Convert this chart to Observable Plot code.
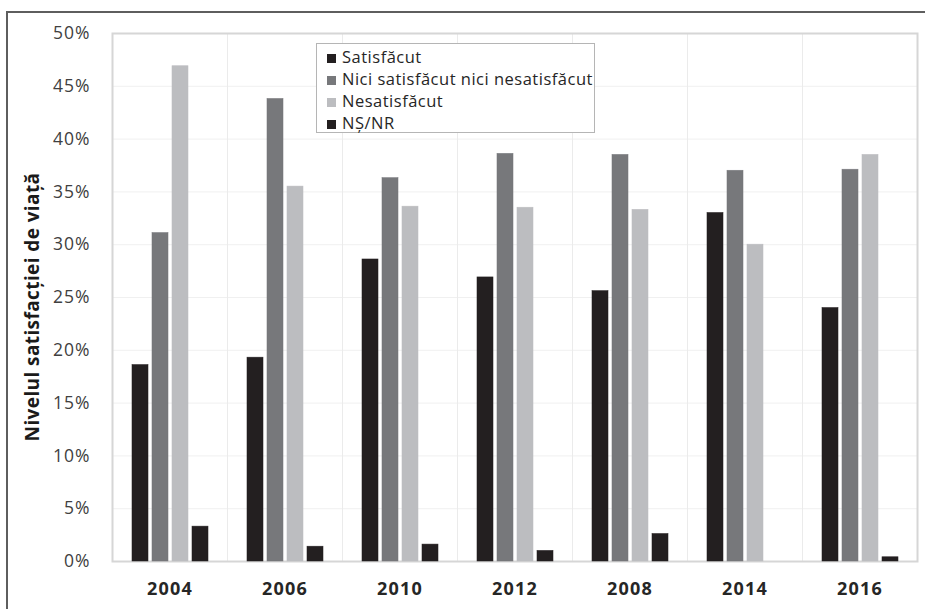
<!DOCTYPE html>
<html>
<head>
<meta charset="utf-8">
<script src="https://cdn.jsdelivr.net/npm/d3@7"></script>
<script src="https://cdn.jsdelivr.net/npm/@observablehq/plot@0.6"></script>
<style>
  html, body { margin: 0; padding: 0; background: #fff; }
  #wrap { position: relative; width: 925px; height: 609px; overflow: hidden; font-family: "Open Sans", sans-serif; }
  #border { position: absolute; left: 6px; top: 11px; width: 940px; height: 620px; border-top: 2px solid #5e5e5e; border-left: 2px solid #5e5e5e; }
  #chart { position: absolute; left: 0; top: 0; }
  #chart [aria-label^="y-axis"] text { letter-spacing: 1px; font-size: 17.5px; }
  #chart [aria-label^="fx-axis"] text { font-weight: bold; font-size: 18px; fill: #262626; letter-spacing: 1.2px; }
  #ytitle { position: absolute; left: 32px; top: 307px; transform: translate(-50%, -50%) rotate(-90deg); white-space: nowrap; font-weight: bold; font-size: 19px; letter-spacing: 0.4px; color: #1a1a1a; }
  #legend { position: absolute; left: 316px; top: 43px; width: 277px; height: 88px; border: 1px solid #b5b5b5; background: #fff; }
  .row { position: absolute; left: 10px; height: 22px; line-height: 22px; font-size: 16.5px; letter-spacing: 0.5px; color: #262626; white-space: nowrap; }
  .sw { display: inline-block; width: 9px; height: 9px; margin-right: 6px; vertical-align: 0px; }
</style>
</head>
<body>
<div id="wrap">
  <div id="border"></div>
  <div id="chart"></div>
  <div id="ytitle">Nivelul satisfacției de viață</div>
  <div id="legend"></div>
</div>
<script>
const years = ["2004", "2006", "2010", "2012", "2008", "2014", "2016"];
const series = ["Satisfăcut", "Nici satisfăcut nici nesatisfăcut", "Nesatisfăcut", "NȘ/NR"];
const satisfacut   = [18.6, 19.3, 28.6, 26.9, 25.6, 33.0, 24.0];
const nici         = [31.1, 43.8, 36.3, 38.6, 38.5, 37.0, 37.1];
const nesatisfacut = [46.9, 35.5, 33.6, 33.5, 33.3, 30.0, 38.5];
const nsnr         = [3.3, 1.4, 1.6, 1.0, 2.6, 0.0, 0.4];
const yTicks = [0, 5, 10, 15, 20, 25, 30, 35, 40, 45, 50];
const colors = ["#231f20", "#77787b", "#bcbdc0", "#231f20"];

const columns = [satisfacut, nici, nesatisfacut, nsnr];
const data = [];
years.forEach((yr, i) => {
  series.forEach((s, j) => data.push({year: yr, series: s, value: columns[j][i]}));
});

const chart = Plot.plot({
  width: 925,
  height: 609,
  marginLeft: 109,
  marginRight: 5,
  marginTop: 33,
  marginBottom: 48,
  style: {fontFamily: "Open Sans, sans-serif", fontSize: "17px", color: "#404040", background: "transparent"},
  fx: {domain: years, padding: 0, label: null, tickSize: 0, tickPadding: 21},
  x: {domain: series, paddingInner: 0.21, paddingOuter: 0.87, axis: null},
  y: {domain: [0, 50], ticks: yTicks, tickFormat: d => d + "%", tickSize: 0, tickPadding: 22, label: null},
  color: {domain: series, range: colors},
  marks: [
    Plot.ruleY(yTicks, {stroke: "#f0f0f0", strokeWidth: 1}),
    Plot.frame({stroke: "#ebebeb", strokeWidth: 1}),
    Plot.frame({stroke: "#d6d6d6", strokeWidth: 2, facet: "super"}),
    Plot.barY(data, {fx: "year", x: "series", y: "value", fill: "series", stroke: "series", strokeOpacity: 0.9, strokeWidth: 0.6})
  ]
});
document.getElementById("chart").appendChild(chart);

const legend = document.getElementById("legend");
series.forEach((s, j) => {
  const row = document.createElement("div");
  row.className = "row";
  row.style.top = (2 + j * 22) + "px";
  const sw = document.createElement("span");
  sw.className = "sw";
  sw.style.background = colors[j];
  row.appendChild(sw);
  row.appendChild(document.createTextNode(s));
  legend.appendChild(row);
});
</script>
</body>
</html>
